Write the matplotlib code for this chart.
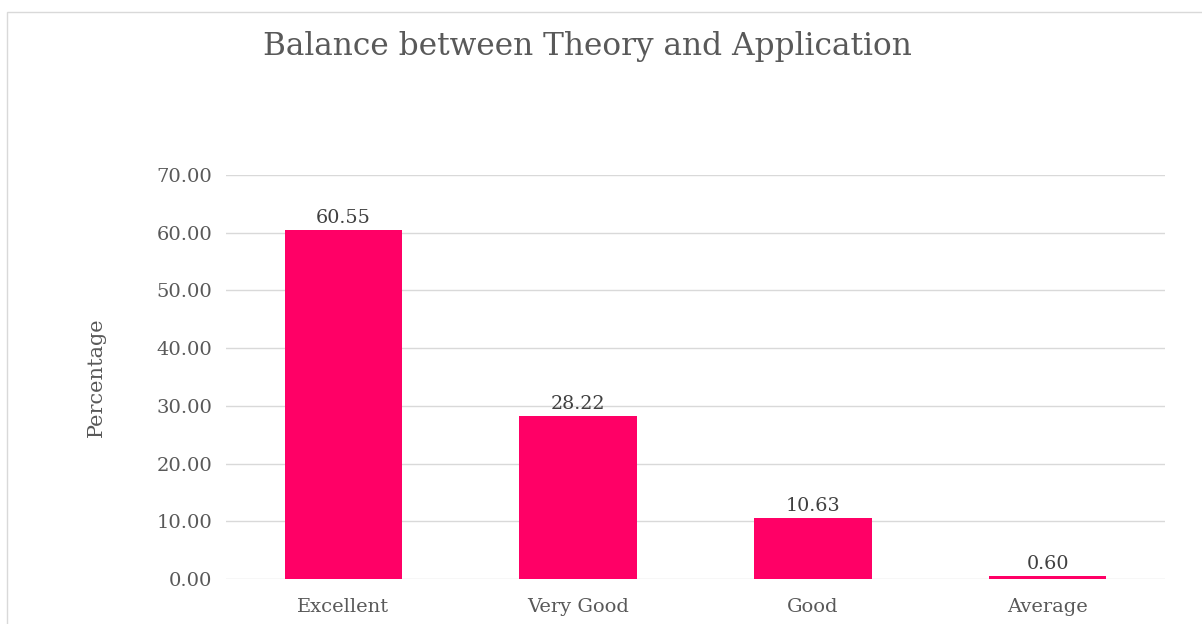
import matplotlib.pyplot as plt
from matplotlib.patches import Rectangle

categories = ['Excellent', 'Very Good', 'Good', 'Average']
values = [60.55, 28.22, 10.63, 0.60]
yticks = [0, 10, 20, 30, 40, 50, 60, 70]

plt.rcParams['font.family'] = ['DejaVu Serif']
text_color = '#595959'
bar_color = '#FF0066'

fig = plt.figure(figsize=(12.02, 6.24), dpi=100)
# chart area border
fig.patches.append(Rectangle((7 / 1202, -0.1), 1.2, 1 - 12 / 624 + 0.1,
                             transform=fig.transFigure, fill=False,
                             edgecolor='#D9D9D9', linewidth=1))

ax = fig.add_axes([226 / 1202, 1 - 579 / 624, 939 / 1202, 404 / 624])
x = range(len(categories))
bars = ax.bar(x, values, width=0.5, color=bar_color, zorder=3)
for b, v in zip(bars, values):
    ax.text(b.get_x() + b.get_width() / 2, v + 0.5, f'{v:.2f}', ha='center',
            va='bottom', fontsize=13.8, color='#404040')

ax.set_xlim(-0.5, len(categories) - 0.5)
ax.set_ylim(0, 70)
ax.set_yticks(yticks)
ax.set_yticklabels([f'{t:.2f}' for t in yticks])
ax.set_xticks(list(x))
ax.set_xticklabels(categories)
ax.grid(axis='y', color='#D9D9D9', linewidth=1, zorder=0)
for s in ax.spines.values():
    s.set_visible(False)
ax.tick_params(length=0, labelsize=14, labelcolor=text_color)
ax.tick_params(axis='y', pad=10)
ax.tick_params(axis='x', pad=14)
ax.set_ylabel('Percentage', fontsize=15, color=text_color, labelpad=36)

fig.text(587 / 1202, 1 - 46 / 624, 'Balance between Theory and Application',
         ha='center', va='center', fontsize=22.5, color=text_color)

fig.savefig('out.png', dpi=100)
